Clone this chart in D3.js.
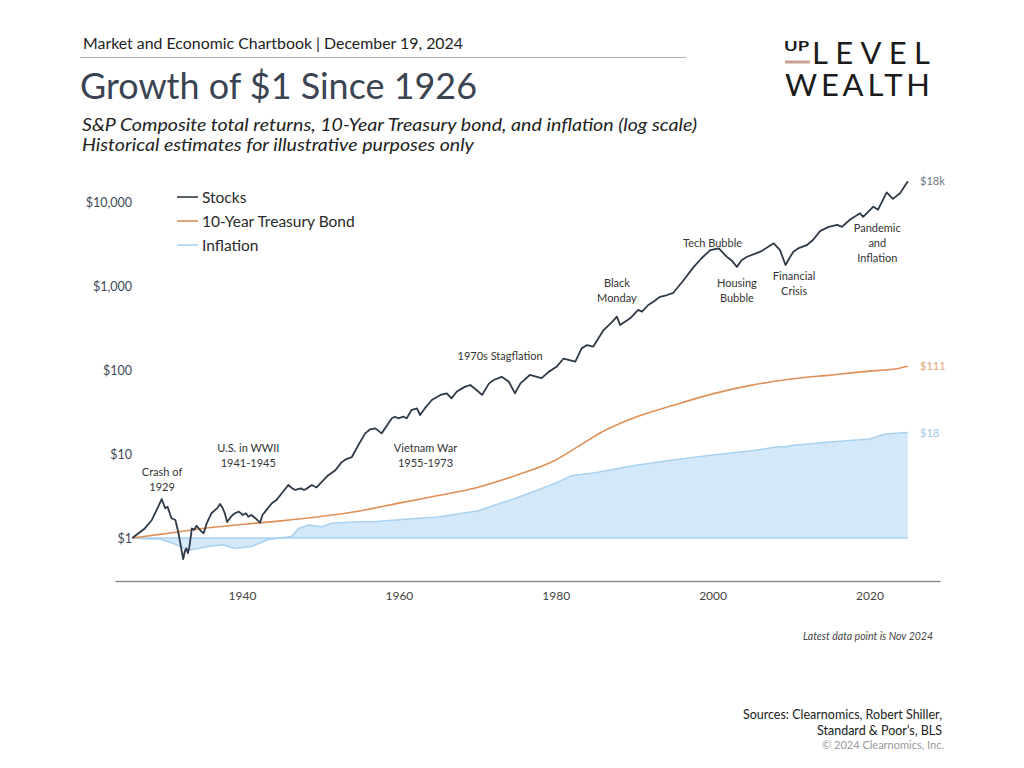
<!DOCTYPE html>
<html><head><meta charset="utf-8">
<script src="https://cdn.jsdelivr.net/npm/d3@7"></script>
<style>
body{margin:0;background:#fff;}
svg{display:block;font-family:Lato,"Noto Sans",sans-serif;}
</style></head><body>
<svg id="chart" width="1024" height="768"></svg>
<script>
// ---------- DATA ----------
const stockYears = [1926,1927.6,1928.5,1929.1,1929.76,1930.2,1930.5,1931,1931.5,1931.9,1932.2,1932.5,1932.7,1932.9,1933.1,1933.3,1933.6,1933.9,1934.2,1934.8,1935.1,1935.5,1936.1,1936.9,1937.2,1937.5,1937.8,1938.1,1938.4,1938.8,1939.1,1939.6,1940.1,1940.5,1940.8,1941.2,1941.7,1942.3,1942.6,1943.1,1943.8,1944.4,1945.1,1945.9,1946.4,1946.8,1947.5,1947.9,1948.3,1948.9,1949.5,1950.2,1951,1951.9,1952.7,1953.3,1954,1954.8,1955.7,1956.3,1957,1957.8,1958.5,1959.1,1959.5,1959.9,1960.6,1961,1961.6,1962.3,1962.7,1963.3,1964.2,1965.3,1966.1,1966.7,1967.4,1968.4,1969.1,1969.9,1970.6,1971.5,1972.1,1973.1,1974,1974.8,1975.5,1976.7,1977.6,1978.2,1979.1,1980.1,1981,1982.5,1983.3,1984,1984.8,1986.1,1987.2,1987.8,1988.2,1989.5,1990.5,1991,1991.8,1992.5,1993.3,1994.2,1995,1996.3,1997.6,1998.6,1999.7,2000.8,2001.8,2002.4,2003.1,2003.7,2004.4,2006.1,2007.8,2008.6,2009.3,2009.9,2010.3,2010.9,2012,2012.8,2013.7,2014.8,2015.9,2016.5,2017.5,2018.8,2019.2,2020.5,2021.1,2022.2,2023,2023.9,2024.9];
const stockValues = [1,1.3,1.64,2.15,2.91,2.26,2.36,1.72,1.64,1.14,0.79,0.56,0.69,0.75,0.66,0.8,1.3,1.25,1.4,1.2,1.14,1.5,1.97,2.3,2.54,2.3,1.97,1.55,1.7,1.88,1.97,2.06,1.88,1.97,1.79,1.88,1.72,1.52,1.88,2.15,2.59,2.84,3.43,4.28,3.9,3.73,3.9,3.73,3.9,4.28,4.0,4.7,5.6,6.4,8.0,8.7,9.2,12.6,17.6,19.6,20.2,17.6,22,26.6,27.8,26.6,27.8,26.6,33.3,34.9,29.1,34.9,43.9,50.5,52.8,46.0,55.4,63.0,66.3,57.8,50.5,69.3,76,83,73,52.8,69.3,87.3,83,80,95,109,137,126,181,198,190,299,375,432,343,412,520,496,594,655,744,781,830,1170,1690,2140,2680,2800,2230,2030,1690,2030,2230,2560,3220,2680,1780,2230,2560,2800,3060,3530,4500,5060,5350,5060,6150,7340,6640,8800,8100,13000,10900,12700,17700];

const bondYears  = [1926,1930,1935,1940,1945,1950,1955,1960,1965,1970,1975,1980,1983,1986,1990,1995,2000,2005,2010,2015,2020,2022,2023,2024.9];
const bondValues = [1,1.12,1.3,1.45,1.6,1.8,2.1,2.6,3.2,4.0,5.6,8.5,12.5,18.5,27,38,52,66,78,87,97,100,102,111];

const inflYears  = [1926,1928,1929.5,1931,1932.5,1933.4,1935.7,1937.5,1939.1,1941.2,1942.1,1943.4,1946.3,1947.2,1948.5,1950.2,1951.4,1954.8,1956.8,1960.8,1965,1970,1975,1980,1982,1985,1990,1995,2000,2005,2008.5,2009,2010,2015,2020,2022,2024.9];
const inflValues = [1,0.97,0.97,0.88,0.76,0.72,0.79,0.83,0.75,0.79,0.86,0.96,1.04,1.3,1.43,1.36,1.5,1.56,1.56,1.67,1.78,2.1,3.0,4.5,5.5,6.0,7.3,8.5,9.7,10.9,12.3,12.0,12.6,13.9,15.1,17.3,18];

const yTicks = [1,10,100,1000,10000];
const yTickLabels = ["$1","$10","$100","$1,000","$10,000"];
const xTicks = [1940,1960,1980,2000,2020];
const seriesNames = ["Stocks","10-Year Treasury Bond","Inflation"];
const endLabels = ["$18k","$111","$18"];
const annotations = [
  {lines:["Crash of","1929"], year:1929.8, value:5.47},
  {lines:["U.S. in WWII","1941-1945"], year:1940.8, value:10.6},
  {lines:["Vietnam War","1955-1973"], year:1963.4, value:10.6},
  {lines:["1970s Stagflation"], year:1972.9, value:131},
  {lines:["Black","Monday"], year:1987.8, value:973},
  {lines:["Tech Bubble"], year:2000, value:2910},
  {lines:["Housing","Bubble"], year:2003.1, value:973},
  {lines:["Financial","Crisis"], year:2010.4, value:1180},
  {lines:["Pandemic","and","Inflation"], year:2021.0, value:4390}
];

// ---------- CHART ----------
const svg = d3.select("#chart");
const colors = {stock:"#2f3a48", bond:"#de9057", inflLine:"#a9d2f1", inflFill:"#d3e8f9"};

const x = d3.scaleLinear().domain([1923.8, 2029]).range([115, 940]);
const y = d3.scaleLog().domain([1, 10000]).range([538, 202]);

const stocks = stockYears.map((d,i)=>({x:d,v:stockValues[i]}));
const bonds  = bondYears.map((d,i)=>({x:d,v:bondValues[i]}));
const infl   = inflYears.map((d,i)=>({x:d,v:inflValues[i]}));

// header
svg.append("text").attr("x",83).attr("y",49).attr("font-size",15.5).attr("fill","#222")
  .attr("textLength",380).attr("lengthAdjust","spacingAndGlyphs")
  .text("Market and Economic Chartbook | December 19, 2024");
svg.append("line").attr("x1",80).attr("x2",686).attr("y1",57.5).attr("y2",57.5).attr("stroke","#a8adb2").attr("stroke-width",1);
svg.append("text").attr("x",80).attr("y",99).attr("font-size",36.5).attr("fill","#3a4452").attr("font-weight",400)
  .attr("textLength",397).attr("lengthAdjust","spacingAndGlyphs")
  .text("Growth of $1 Since 1926");
svg.append("text").attr("x",82).attr("y",131).attr("font-size",18).attr("font-style","italic").attr("fill","#222")
  .attr("textLength",615).attr("lengthAdjust","spacingAndGlyphs")
  .text("S&P Composite total returns, 10-Year Treasury bond, and inflation (log scale)");
svg.append("text").attr("x",82).attr("y",151).attr("font-size",18).attr("font-style","italic").attr("fill","#222")
  .attr("textLength",392).attr("lengthAdjust","spacingAndGlyphs")
  .text("Historical estimates for illustrative purposes only");

// logo
const logo = svg.append("g").attr("font-family","Lato, sans-serif").attr("fill","#1b1b1b");
logo.append("text").attr("x",784).attr("y",51).attr("font-size",13).attr("font-weight",700)
  .attr("textLength",25).attr("lengthAdjust","spacingAndGlyphs").text("UP");
logo.append("rect").attr("x",785).attr("y",60.5).attr("width",25).attr("height",3).attr("fill","#c9a195");
logo.append("text").attr("x",812).attr("y",64).attr("font-size",31)
  .attr("textLength",118).attr("lengthAdjust","spacing").text("LEVEL");
logo.append("text").attr("x",785).attr("y",96).attr("font-size",31)
  .attr("textLength",145).attr("lengthAdjust","spacing").text("WEALTH");

// inflation area
svg.append("path").datum(infl)
  .attr("d", d3.area().x(d=>x(d.x)).y0(y(1)).y1(d=>y(d.v)))
  .attr("fill", colors.inflFill);
svg.append("path").datum(infl)
  .attr("d", d3.line().x(d=>x(d.x)).y(d=>y(d.v)))
  .attr("fill","none").attr("stroke",colors.inflLine).attr("stroke-width",1.5);
svg.append("line").attr("x1",x(1926)).attr("x2",x(2024.9)).attr("y1",y(1)).attr("y2",y(1))
  .attr("stroke",colors.inflLine).attr("stroke-width",1.5);

// bond line
svg.append("path").datum(bonds)
  .attr("d", d3.line().curve(d3.curveMonotoneX).x(d=>x(d.x)).y(d=>y(d.v)))
  .attr("fill","none").attr("stroke",colors.bond).attr("stroke-width",1.6);

// stock line
svg.append("path").datum(stocks)
  .attr("d", d3.line().x(d=>x(d.x)).y(d=>y(d.v)))
  .attr("fill","none").attr("stroke",colors.stock).attr("stroke-width",1.8).attr("stroke-linejoin","round");

// y axis labels
const yAxis = svg.append("g").attr("transform","translate(132,0)")
  .call(d3.axisLeft(y).tickValues(yTicks).tickFormat((d,i)=>yTickLabels[i]).tickSize(0).tickPadding(0));
yAxis.select(".domain").remove();
yAxis.selectAll("text").attr("text-anchor","end").attr("font-size",12.5).attr("fill","#3d4856").attr("font-family","Lato, sans-serif");

// x axis
const xAxis = svg.append("g").attr("transform","translate(0,581)")
  .call(d3.axisBottom(x).tickValues(xTicks).tickFormat(d3.format("d")).tickSize(0).tickPadding(10));
xAxis.select(".domain").attr("stroke","#8a8f94").attr("stroke-width",1.5);
xAxis.selectAll("text").attr("font-size",12).attr("fill","#444").attr("font-family","Lato, sans-serif");

// legend
const legColors = [colors.stock, colors.bond, colors.inflLine];
seriesNames.forEach((n,i)=>{
  const yy = 197 + i*24;
  svg.append("line").attr("x1",177).attr("x2",198).attr("y1",yy).attr("y2",yy)
    .attr("stroke",legColors[i]).attr("stroke-width",1.6);
  svg.append("text").attr("x",202).attr("y",yy+5.5).attr("font-size",15.5).attr("fill","#2a2a2a").text(n);
});

// end labels
const endVals = [stockValues[stockValues.length-1], bondValues[bondValues.length-1], inflValues[inflValues.length-1]];
const endColors = ["#6c7785","#e0a577","#9fcaec"];
endLabels.forEach((t,i)=>{
  svg.append("text").attr("x",920).attr("y",y(endVals[i])+4).attr("font-size",11).attr("fill",endColors[i]).text(t);
});

// annotations
annotations.forEach(a=>{
  const t = svg.append("text").attr("text-anchor","middle").attr("font-size",11).attr("fill","#333");
  a.lines.forEach((l,i)=>{
    t.append("tspan").attr("x",x(a.year)).attr("y",y(a.value)+i*15).text(l);
  });
});

// footer
svg.append("text").attr("x",933).attr("y",640).attr("text-anchor","end").attr("font-size",10.5)
  .attr("font-style","italic").attr("fill","#444").text("Latest data point is Nov 2024");
svg.append("text").attr("x",942).attr("y",719).attr("text-anchor","end").attr("font-size",12.5).attr("fill","#222")
  .text("Sources: Clearnomics, Robert Shiller,");
svg.append("text").attr("x",942).attr("y",735).attr("text-anchor","end").attr("font-size",12.5).attr("fill","#222")
  .text("Standard & Poor\u2019s, BLS");
svg.append("text").attr("x",944).attr("y",749).attr("text-anchor","end").attr("font-size",11).attr("fill","#999")
  .text("\u00a9 2024 Clearnomics, Inc.");
</script>
</body></html>
